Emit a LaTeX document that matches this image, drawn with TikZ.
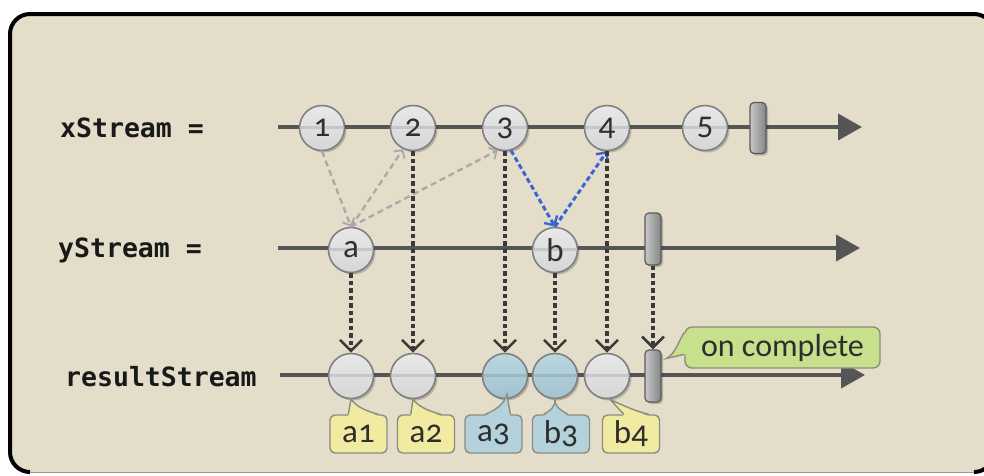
\documentclass[tikz,border=0pt]{standalone}
\usepackage{fontspec}
\setmainfont{Carlito}[Numbers=OldStyle]
\newfontfamily\codefont{DejaVu Sans Mono}
\usetikzlibrary{arrows.meta,shadows,calc}
\definecolor{bg}{HTML}{E3DDCA}
\definecolor{streamc}{HTML}{555555}
\definecolor{circb}{HTML}{808080}
\definecolor{darkdashc}{HTML}{3A3A3A}
\definecolor{graydashc}{HTML}{A9A9A9}
\definecolor{bluedashc}{HTML}{3A66D4}
\definecolor{ylw}{HTML}{F1EBA2}
\definecolor{blu}{HTML}{B3D2DC}
\definecolor{bluc}{HTML}{A9CDD8}
\definecolor{grn}{HTML}{C7E08C}
\definecolor{bubb}{HTML}{8C8C80}
\definecolor{txt}{HTML}{2E2E2E}
\begin{document}
\begin{tikzpicture}[x=1pt,y=-1pt,
  streamline/.style={draw=streamc, line width=4pt, -{Triangle[length=24pt,width=26pt]}},
  myshadow/.style={drop shadow={shadow xshift=2pt, shadow yshift=-2pt, opacity=.2, fill=black}},
  evcirc/.style={circle, minimum size=45pt, inner sep=0pt, draw=circb, line width=1.6pt,
    top color=black!9, bottom color=black!16, myshadow, text=txt,
    font=\fontsize{33}{34}\selectfont},
  bluecirc/.style={evcirc, top color=bluc!80!white, bottom color=bluc!95!black},
  endbar/.style={rectangle, rounded corners=4pt, minimum width=16pt, minimum height=51pt,
    inner sep=0pt, draw=black!65, line width=1.2pt, left color=black!22, right color=black!48, myshadow},
  darkdash/.style={draw=darkdashc, line width=3.4pt, dash pattern=on 4.5pt off 3pt,
    -{Straight Barb[length=11pt,width=22pt,line width=2.6pt]}},
  graydash/.style={draw=graydashc, line width=2.3pt, dash pattern=on 6pt off 4pt,
    -{Straight Barb[length=6pt,width=13pt,line width=1.8pt]}},
  bluedash/.style={draw=bluedashc, line width=3pt, dash pattern=on 5pt off 3pt,
    -{Straight Barb[length=7pt,width=15pt,line width=2.4pt]}},
  lbl/.style={rectangle, rounded corners=5pt, minimum width=57pt, minimum height=38pt,
    inner sep=0pt, draw=bubb, line width=1.4pt, text=txt, font=\fontsize{33}{34}\selectfont},
  tailline/.style={draw=bubb, line width=1.4pt},
  codetxt/.style={inner sep=0pt, anchor=base west, text=black!90,
    font=\codefont\fontsize{26.5}{28}\selectfont\bfseries}
]
\useasboundingbox (0,0) rectangle (984,475);

% frame
\fill[bg, rounded corners=20pt] (10,14) rectangle (994,472);
\draw[line width=4pt, rounded corners=20pt] (30,472) -- (10,472) -- (10,14) -- (994,14) -- (994,472) -- (974,472);
\draw[line width=1.2pt, black!40] (30,472.5) -- (974,472.5);

% stream lines
\coordinate (xs) at (278,127);  \coordinate (xe) at (862,127);
\coordinate (ys) at (278,248);  \coordinate (ye) at (860,248);
\coordinate (rs) at (280,375);  \coordinate (re) at (865,375);
\draw[streamline] (xs) -- (xe);
\draw[streamline] (ys) -- (ye);
\draw[streamline] (rs) -- (re);

% xStream events
\node[evcirc] (x1) at (322,128) {1};
\node[evcirc] (x2) at (413,128) {2};
\node[evcirc] (x3) at (505,128) {3};
\node[evcirc] (x4) at (607,128) {4};
\node[evcirc] (x5) at (705,128) {5};
\node[endbar] (xend) at (758,128) {};

% yStream events
\node[evcirc] (ya) at (351,250) {a};
\node[evcirc] (yb) at (555,250) {b};
\node[endbar, minimum height=52pt] (yend) at (653,239) {};

% result events
\node[evcirc] (r1) at (351,376) {};
\node[evcirc] (r2) at (413,376) {};
\node[bluecirc] (r3) at (505,376) {};
\node[bluecirc] (r4) at (555,376) {};
\node[evcirc] (r5) at (607,376) {};
\node[endbar, minimum height=52pt] (rend) at (653,376) {};

% faint line showing through the event marbles
\foreach \n in {x1,x2,x3,x4,x5,ya,yb,r1,r2,r3,r4,r5}
  \draw[streamc, opacity=.18, line width=3pt] ($(\n.west)+(2,-1)$) -- ($(\n.east)+(-2,-1)$);

% gray combination arrows
\draw[graydash] (x1.south) -- (ya.north);
\draw[graydash] (ya.north) -- (x2.245);
\draw[graydash] (ya.north) -- (x3.252);

% blue combination arrows
\draw[bluedash] (x3.285) -- (yb.north);
\draw[bluedash] (yb.north) -- (x4.south);

% dark emission arrows
\draw[darkdash] (ya.south) -- (r1.north);
\draw[darkdash] (x2.south) -- (r2.north);
\draw[darkdash] (x3.south) -- (r3.north);
\draw[darkdash] (yb.south) -- (r4.north);
\draw[darkdash] (x4.south) -- (r5.north);
\draw[darkdash] (yend.south) -- (rend.north);

% value labels
\node[lbl, fill=ylw] (l1) at (358.5,434) {a1};
\node[lbl, fill=ylw] (l2) at (426,434) {a2};
\node[lbl, fill=blu] (l3) at (493.5,434) {a3};
\node[lbl, fill=blu] (l4) at (561,434) {b3};
\node[lbl, fill=ylw] (l5) at (631,434) {b4};

% tails
\coordinate (t1) at (r1.south);
\coordinate (t2) at (r2.south);
\coordinate (t3) at ($(r3.south)+(2,-5)$);
\coordinate (t4) at (r4.south);
\coordinate (t5) at ($(r5.south)+(3,0)$);

\fill[ylw] ($(l1.north west)+(19,1.6)$) -- (t1) .. controls +(7,9) and +(-10,-3) .. ($(l1.north west)+(49,1.6)$) -- cycle;
\draw[tailline] ($(l1.north west)+(19,0)$) -- (t1) .. controls +(7,9) and +(-10,-3) .. ($(l1.north west)+(49,0)$);

\fill[ylw] ($(l2.north west)+(14,1.6)$) -- (t2) .. controls +(7,9) and +(-10,-3) .. ($(l2.north west)+(44,1.6)$) -- cycle;
\draw[tailline] ($(l2.north west)+(14,0)$) -- (t2) .. controls +(7,9) and +(-10,-3) .. ($(l2.north west)+(44,0)$);

\fill[blu] ($(l3.north west)+(21,1.6)$) .. controls +(10,-4) and +(-3,10) .. (t3) -- ($(l3.north west)+(46,1.6)$) -- cycle;
\draw[tailline] ($(l3.north west)+(21,0)$) .. controls +(10,-4) and +(-3,10) .. (t3) -- ($(l3.north west)+(46,0)$);

\fill[blu] ($(l4.north west)+(12,1.6)$) .. controls +(7,-4) and +(0,8) .. (t4) .. controls +(0,8) and +(-7,-4) .. ($(l4.north west)+(36,1.6)$) -- cycle;
\draw[tailline] ($(l4.north west)+(12,0)$) .. controls +(7,-4) and +(0,8) .. (t4) .. controls +(0,8) and +(-7,-4) .. ($(l4.north west)+(36,0)$);

\fill[ylw] ($(l5.north west)+(22,1.6)$) -- (t5) .. controls +(12,6) and +(-10,-2) .. ($(l5.north west)+(47,1.6)$) -- cycle;
\draw[tailline] ($(l5.north west)+(22,0)$) -- (t5) .. controls +(12,6) and +(-10,-2) .. ($(l5.north west)+(47,0)$);

% on complete callout
\node[lbl, fill=grn, minimum width=195pt, minimum height=41pt, rounded corners=7pt,
      font=\fontsize{32}{33}\selectfont] (oc) at (782.5,347.5) {on complete};
\coordinate (octip) at ($(rend.north east)+(5,9)$);
\fill[grn] ($(oc.north west)+(1.6,6)$) .. controls +(-6,10) and +(8,-4) .. (octip) -- ($(oc.north west)+(1.6,28)$) -- cycle;
\draw[tailline] ($(oc.north west)+(0,6)$) .. controls +(-6,10) and +(8,-4) .. (octip) -- ($(oc.north west)+(0,28)$);

% stream names
\node[codetxt] (nx) at (60,137) {xStream =};
\node[codetxt] (ny) at (58,257) {yStream =};
\node[codetxt] (nr) at (65,386) {resultStream};
\end{tikzpicture}
\end{document}
